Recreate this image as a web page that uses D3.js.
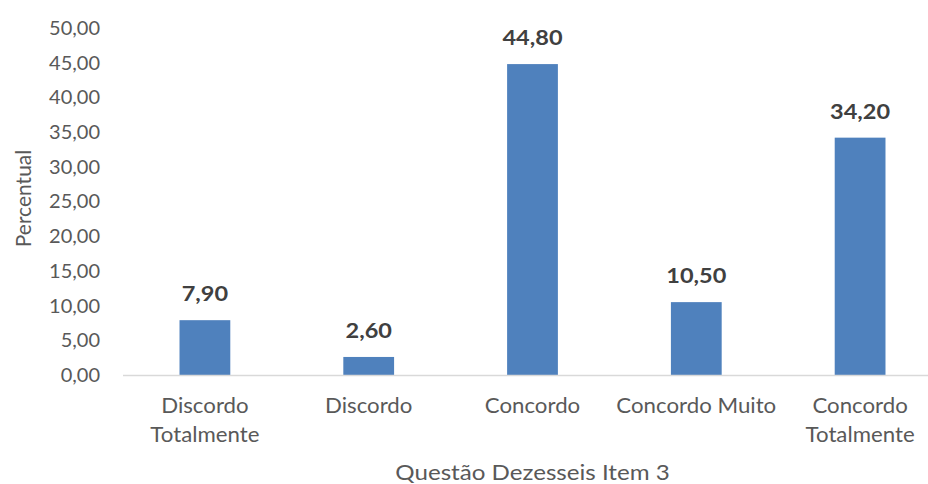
<!DOCTYPE html>
<html>
<head>
<meta charset="utf-8">
<script src="https://cdn.jsdelivr.net/npm/d3@7"></script>
<style>
  html, body { margin: 0; padding: 0; background: #fff; }
  svg { display: block; font-family: Lato, "Open Sans", sans-serif; }
</style>
</head>
<body>
<svg id="chart" width="928" height="484"></svg>
<script>
// Response categories (two-line labels split on "|")
const categories = ["Discordo|Totalmente", "Discordo", "Concordo", "Concordo Muito", "Concordo|Totalmente"];
// Percent of respondents per category
const values = [7.90, 2.60, 44.80, 10.50, 34.20];
// Y-axis tick values
const yTicks = [0, 5, 10, 15, 20, 25, 30, 35, 40, 45, 50];

const svg = d3.select("#chart");
const fmt = v => v.toFixed(2).replace(".", ",");

const x = d3.scaleBand()
  .domain(categories)
  .range([123, 942])
  .paddingInner(0.69)
  .paddingOuter(0.345);

const y = d3.scaleLinear()
  .domain([0, 50])
  .range([375, 28]);

// Y axis: labels only, no domain line or ticks
const yAxis = svg.append("g")
  .attr("transform", "translate(100,0)")
  .call(d3.axisLeft(y).tickValues(yTicks).tickFormat(fmt).tickSize(0).tickPadding(0));
yAxis.select(".domain").remove();
yAxis.selectAll("text")
  .attr("fill", "#595959")
  .style("font-size", "20px")
  .style("font-family", "Lato, sans-serif");

// Bars
svg.append("g").selectAll("rect")
  .data(values)
  .join("rect")
  .attr("x", (d, i) => x(categories[i]))
  .attr("y", d => y(d))
  .attr("width", x.bandwidth())
  .attr("height", d => y(0) - y(d))
  .attr("fill", "#4F81BD");

// Baseline
svg.append("line")
  .attr("x1", 123).attr("x2", 928)
  .attr("y1", y(0) + 0.5).attr("y2", y(0) + 0.5)
  .attr("stroke", "#d9d9d9")
  .attr("stroke-width", 1.5);

// Value labels (slightly widened glyphs)
svg.append("g").selectAll("text")
  .data(values)
  .join("text")
  .attr("transform", (d, i) =>
    `translate(${x(categories[i]) + x.bandwidth() / 2},${y(d) - 19}) scale(1.12,1)`)
  .attr("text-anchor", "middle")
  .attr("fill", "#404040")
  .style("font-size", "21px")
  .style("font-weight", "bold")
  .text(d => fmt(d));

// Category labels
const cat = svg.append("g").selectAll("text")
  .data(categories)
  .join("text")
  .attr("transform", d => `translate(${x(d) + x.bandwidth() / 2},413) scale(1.06,1)`)
  .attr("text-anchor", "middle")
  .attr("fill", "#595959")
  .style("font-size", "21px");
cat.each(function(d) {
  const t = d3.select(this);
  d.split("|").forEach((l, i) => {
    t.append("tspan")
      .attr("x", 0)
      .attr("dy", i === 0 ? 0 : 29)
      .text(l);
  });
});

// Axis titles
svg.append("text")
  .attr("transform", `translate(${(123 + 942) / 2},480) scale(1.15,1)`)
  .attr("text-anchor", "middle")
  .attr("fill", "#595959")
  .style("font-size", "21px")
  .text("Questão Dezesseis Item 3");

svg.append("text")
  .attr("transform", `translate(31,${(y(0) + y(50)) / 2 - 3}) rotate(-90)`)
  .attr("text-anchor", "middle")
  .attr("fill", "#595959")
  .style("font-size", "21px")
  .text("Percentual");
</script>
</body>
</html>
